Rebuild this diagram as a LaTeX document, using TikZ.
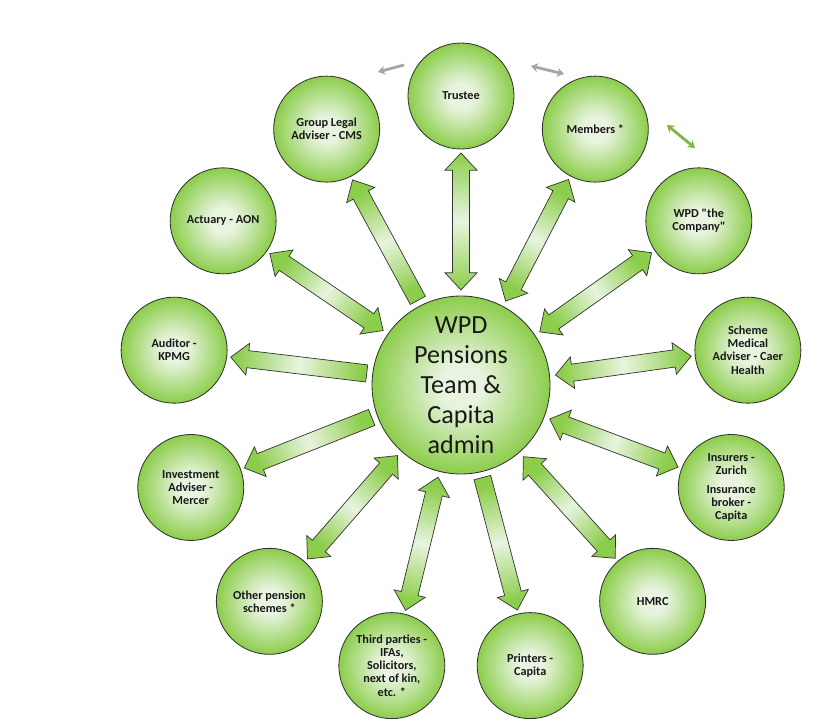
\documentclass[tikz,border=0pt]{standalone}
\usepackage{fontspec}
\setmainfont{Carlito}
\newfontfamily\labelfont{Carlito}
\usepackage{tikz}
\usetikzlibrary{calc,arrows.meta}
\definecolor{leaf}{RGB}{140,205,75}
\definecolor{leaflight}{RGB}{232,244,223}
\pgfdeclareradialshading{greenball}{\pgfpoint{0bp}{0bp}}{color(0bp)=(leaflight); color(6bp)=(leaflight); color(25bp)=(leaf); color(50bp)=(leaf)}
\tikzset{
	party/.style={circle, shade, shading=greenball, draw=black!80, line width=0.6pt, minimum size=2.65cm, inner sep=0pt, outer sep=0.1cm, align=center, text=black!90, font=\labelfont\fontsize{8.7pt}{9.3pt}\selectfont\bfseries},
	hubnode/.style={circle, shade, shading=greenball, draw=black!80, line width=0.6pt, minimum size=4.45cm, inner sep=0pt, outer sep=0.15cm, align=center, text=black!90, font=\fontsize{18.6pt}{21.3pt}\selectfont},
	arrowbody/.style={draw=black!80, line width=0.5pt, line join=miter, top color=leaf, bottom color=leaf, middle color=leaflight},
	greylink/.style={line width=2pt, color=black!35, >={Stealth[length=5pt,width=6.5pt]}},
	greenlink/.style={line width=2pt, color=leaf!90!black, >={Stealth[length=5pt,width=6.5pt]}}
}
\def\twowayarrow[#1](#2)(#3){%
	\pgfmathsetmacro\backang{mod(#1+180,360)}%
	\pgfmathsetmacro\shadeang{#1-90}%
	\coordinate (as) at (#2.#1);
	\coordinate (ae) at (#3.\backang);
	\coordinate (hs) at ($(as)!0.43cm!(ae)$);
	\coordinate (he) at ($(ae)!0.43cm!(as)$);
	\shade[arrowbody, shading angle=\shadeang] (as) -- ($(hs)!0.4cm!90:(ae)$) -- ($(hs)!0.215cm!90:(ae)$) -- ($(he)!0.215cm!-90:(as)$) -- ($(he)!0.4cm!-90:(as)$) -- (ae) -- ($(he)!0.4cm!90:(as)$) -- ($(he)!0.215cm!90:(as)$) -- ($(hs)!0.215cm!-90:(ae)$) -- ($(hs)!0.4cm!-90:(ae)$) -- cycle;
}
\def\onewayarrow[#1](#2)(#3){%
	\pgfmathsetmacro\backang{mod(#1+180,360)}%
	\pgfmathsetmacro\shadeang{#1-90}%
	\coordinate (as) at (#2.#1);
	\coordinate (ae) at (#3.\backang);
	\coordinate (he) at ($(ae)!0.43cm!(as)$);
	\shade[arrowbody, shading angle=\shadeang] ($(as)!0.215cm!90:(ae)$) -- ($(he)!0.215cm!-90:(as)$) -- ($(he)!0.4cm!-90:(as)$) -- (ae) -- ($(he)!0.4cm!90:(as)$) -- ($(he)!0.215cm!90:(as)$) -- ($(as)!0.215cm!-90:(ae)$) -- cycle;
}

\begin{document}
\begin{tikzpicture}
			%%%%% START %%%%%
			
			\useasboundingbox (-11.525, -8.55) rectangle (9.025, 9.625);
			
			\node[hubnode] (hub) at (0, 0) {WPD\\Pensions\\Team \&\\Capita\\admin};
			
			\node[party] (trustee) at (0, 7.225) {Trustee};
			\node[party] (members) at (3.358, 6.397) {Members *};
			\node[party] (company) at (5.946, 4.104) {WPD "the\\Company"};
			\node[party] (medical) at (7.172, 0.871) {Scheme\\Medical\\Adviser - Caer\\Health};
			\node[party] (insurers) at (6.756, -2.562) {Insurers -\\Zurich\\[0.15cm]Insurance\\broker -\\Capita};
			\node[party] (hmrc) at (4.791, -5.408) {HMRC};
			\node[party] (printers) at (1.729, -7.015) {Printers -\\Capita};
			\node[party] (thirdparty) at (-1.729, -7.015) {Third parties -\\IFAs,\\Solicitors,\\next of kin,\\etc. *};
			\node[party] (otherschemes) at (-4.791, -5.408) {Other pension\\schemes *};
			\node[party] (investment) at (-6.756, -2.562) {Investment\\Adviser -\\Mercer};
			\node[party] (auditor) at (-7.172, 0.871) {Auditor -\\KPMG};
			\node[party] (actuary) at (-5.946, 4.104) {Actuary - AON};
			\node[party] (legal) at (-3.358, 6.397) {Group Legal\\Adviser - CMS};
			
			\twowayarrow[90](hub)(trustee)
			\twowayarrow[62.31](hub)(members)
			\twowayarrow[34.62](hub)(company)
			\twowayarrow[6.92](hub)(medical)
			\twowayarrow[339.23](hub)(insurers)
			\twowayarrow[311.54](hub)(hmrc)
			\onewayarrow[283.85](hub)(printers)
			\twowayarrow[256.15](hub)(thirdparty)
			\twowayarrow[228.46](hub)(otherschemes)
			\onewayarrow[200.77](hub)(investment)
			\onewayarrow[173.08](hub)(auditor)
			\twowayarrow[145.38](hub)(actuary)
			\onewayarrow[117.69](hub)(legal)
			
			\coordinate (g1s) at (-1.425, 8.0);
			\coordinate (g1e) at (-2.075, 7.825);
			\draw[greylink, ->] (g1s) -- (g1e);
			
			\coordinate (g2s) at (1.75, 7.975);
			\coordinate (g2e) at (2.575, 7.775);
			\draw[greylink, <->] (g2s) -- (g2e);
			
			\coordinate (g3s) at (5.15, 6.5);
			\coordinate (g3e) at (5.85, 5.925);
			\draw[greenlink, <->] (g3s) -- (g3e);
			
			%%%%% END %%%%%
\end{tikzpicture}
\end{document}
